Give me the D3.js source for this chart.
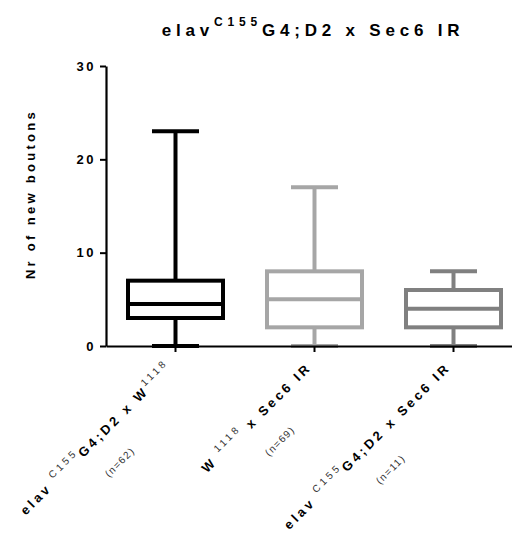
<!DOCTYPE html>
<html>
<head>
<meta charset="utf-8">
<script src="https://cdn.jsdelivr.net/npm/d3@7"></script>
<style>
  body { margin: 0; background: #fff; }
  svg { font-family: "Liberation Sans", Arial, sans-serif; }
</style>
</head>
<body>
<div id="chart"></div>
<script>
// data
const groups = ["elavC155G4;D2 x W1118", "W1118 x Sec6 IR", "elavC155G4;D2 x Sec6 IR"];
const mins    = [0, 0, 0];
const q1s     = [3, 2, 2];
const medians = [4.5, 5, 4];
const q3s     = [7, 8, 6];
const maxs    = [23, 17, 8];
const nCounts = [62, 69, 11];
const yTicks  = [0, 10, 20, 30];
const colors  = ["#000000", "#a6a6a6", "#808080"];
// label pieces, [text, isSuperscript]
const labelParts = [
  [["elav ", 0], ["C155", 1], ["G4;D2 x W", 0], ["1118", 1]],
  [["W ", 0], ["1118", 1], [" x Sec6 IR", 0]],
  [["elav ", 0], ["C155", 1], ["G4;D2 x Sec6 IR", 0]]
];

const width = 512, height = 533;
const plotLeft = 106, plotTop = 66, plotBottom = 346;

const svg = d3.select("#chart").append("svg")
    .attr("width", width)
    .attr("height", height);

const y = d3.scaleLinear().domain([0, 30]).range([plotBottom, plotTop]);
const x = d3.scaleBand().domain(groups).range([plotLeft, plotLeft + 3 * 139]);
const cx = function(i) { return x(groups[i]) + x.bandwidth() / 2; };
const boxW = 95, capW = 47;

// title
const title = svg.append("text")
    .attr("x", 313).attr("y", 36)
    .attr("text-anchor", "middle")
    .style("font-weight", "bold")
    .style("font-size", "17px")
    .style("letter-spacing", "4.8px");
title.append("tspan").text("elav");
title.append("tspan").attr("dy", -10).style("font-size", "12px").text("C155");
title.append("tspan").attr("dy", 10).text("G4;D2 x Sec6 IR");

// y axis title
svg.append("text")
    .attr("transform", "translate(35," + 194 + ") rotate(-90)")
    .attr("text-anchor", "middle")
    .style("font-weight", "bold")
    .style("font-size", "13px")
    .style("letter-spacing", "3.3px")
    .text("Nr of new boutons");

// y axis
const yAxis = svg.append("g")
    .attr("transform", "translate(" + plotLeft + ",0)")
    .call(d3.axisLeft(y).tickValues(yTicks).tickSize(6).tickPadding(4).tickSizeOuter(0));
yAxis.select(".domain").attr("stroke-width", 2.2);
yAxis.selectAll(".tick line").attr("stroke-width", 2);
yAxis.selectAll(".tick text")
    .style("font-weight", "bold")
    .style("font-size", "13px")
    .style("letter-spacing", "2.5px")
    .attr("fill", "#000");

// boxes
const boxes = svg.append("g").selectAll("g")
    .data(groups)
  .enter().append("g")
    .attr("stroke", function(d, i) { return colors[i]; })
    .attr("stroke-width", 4)
    .attr("fill", "none");

boxes.append("line")
    .attr("x1", function(d, i) { return cx(i); })
    .attr("x2", function(d, i) { return cx(i); })
    .attr("y1", function(d, i) { return y(maxs[i]); })
    .attr("y2", function(d, i) { return y(q3s[i]); });
boxes.append("line")
    .attr("x1", function(d, i) { return cx(i); })
    .attr("x2", function(d, i) { return cx(i); })
    .attr("y1", function(d, i) { return y(q1s[i]); })
    .attr("y2", function(d, i) { return y(mins[i]); });
boxes.append("line")
    .attr("x1", function(d, i) { return cx(i) - capW / 2; })
    .attr("x2", function(d, i) { return cx(i) + capW / 2; })
    .attr("y1", function(d, i) { return y(maxs[i]); })
    .attr("y2", function(d, i) { return y(maxs[i]); });
boxes.append("line")
    .attr("x1", function(d, i) { return cx(i) - capW / 2; })
    .attr("x2", function(d, i) { return cx(i) + capW / 2; })
    .attr("y1", function(d, i) { return y(mins[i]); })
    .attr("y2", function(d, i) { return y(mins[i]); });
boxes.append("rect")
    .attr("x", function(d, i) { return cx(i) - boxW / 2; })
    .attr("width", boxW)
    .attr("y", function(d, i) { return y(q3s[i]); })
    .attr("height", function(d, i) { return y(q1s[i]) - y(q3s[i]); })
    .attr("fill", "#fff");
boxes.append("line")
    .attr("x1", function(d, i) { return cx(i) - boxW / 2; })
    .attr("x2", function(d, i) { return cx(i) + boxW / 2; })
    .attr("y1", function(d, i) { return y(medians[i]); })
    .attr("y2", function(d, i) { return y(medians[i]); });

// x axis
const xAxis = svg.append("g")
    .attr("transform", "translate(0," + plotBottom + ")")
    .call(d3.axisBottom(x).tickSize(6).tickFormat("").tickSizeOuter(0));
xAxis.select(".domain").attr("stroke-width", 2.2);
xAxis.selectAll(".tick line").attr("stroke-width", 2);

// rotated category labels
groups.forEach(function(g, i) {
  const lg = svg.append("g")
      .attr("transform", "translate(" + (cx(i) - 2) + ",368) rotate(-45)");
  const t = lg.append("text")
      .attr("text-anchor", "end")
      .style("font-weight", "bold")
      .style("font-size", "13px")
      .style("letter-spacing", "3.2px");
  let up = 0;
  labelParts[i].forEach(function(p) {
    const s = t.append("tspan").text(p[0]);
    if (p[1]) { s.attr("dy", -7 - up).style("font-size", "10px").style("font-weight", "normal").attr("fill", "#333"); up = -7; }
    else { s.attr("dy", -up); up = 0; }
  });
  const len = t.node().getComputedTextLength();
  lg.append("text")
      .attr("x", -len / 2)
      .attr("y", 32)
      .attr("text-anchor", "middle")
      .attr("fill", "#333")
      .style("font-size", "10px")
      .style("letter-spacing", "1.4px")
      .text("(n=" + nCounts[i] + ")");
});
</script>
</body>
</html>
